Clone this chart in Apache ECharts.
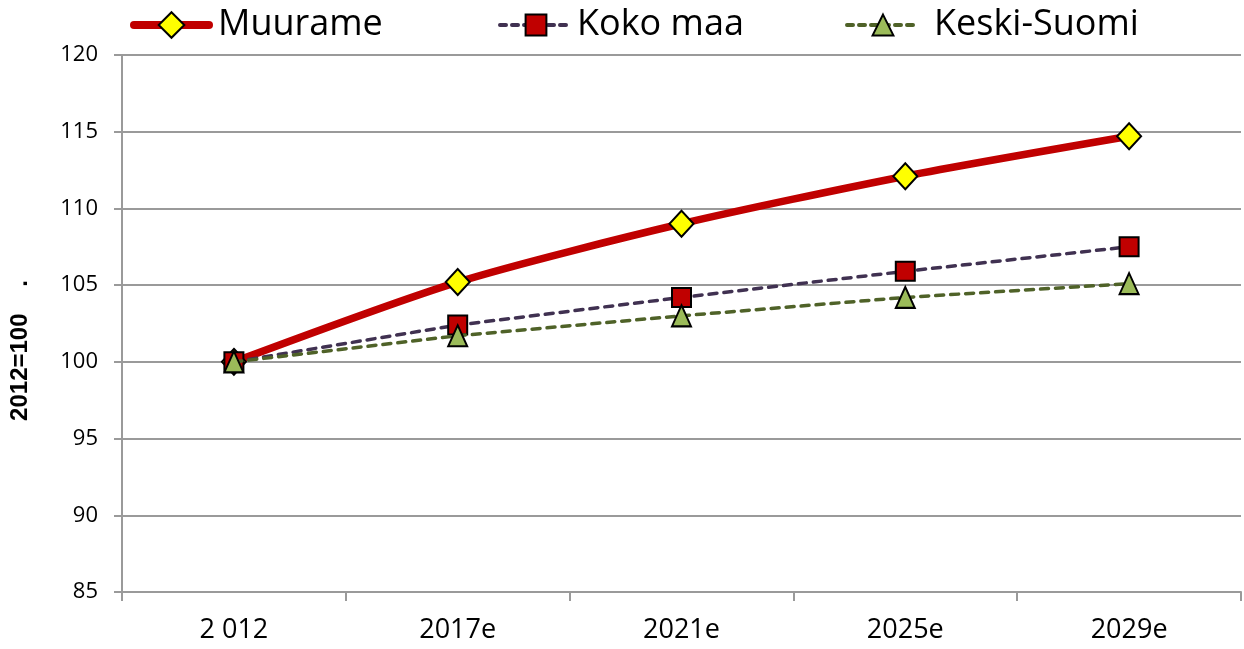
<!DOCTYPE html>
<html><head><meta charset="utf-8">
<script src="https://cdn.jsdelivr.net/npm/echarts@6/dist/echarts.min.js"></script>
<style>html,body{margin:0;padding:0;background:#fff}#c{width:1244px;height:649px}</style>
</head><body><div id="c"></div>
<script>
const categories = ['2 012', '2017e', '2021e', '2025e', '2029e'];
const muurame = [100, 105.2, 109.0, 112.1, 114.7];
const kokoMaa = [100, 102.4, 104.2, 105.9, 107.5];
const keskiSuomi = [100, 101.7, 103.0, 104.2, 105.1];
const yTicks = [85, 90, 95, 100, 105, 110, 115, 120];

const chart = echarts.init(document.getElementById('c'), null, {renderer: 'canvas'});
const lt = (pad) => ({fontFamily: 'Open Sans, sans-serif', fontSize: 36, color: '#000', padding: [0, 0, 0, pad]});
chart.setOption({
  animation: false,
  backgroundColor: '#fff',
  legend: [
    {data: ['Muurame'], left: 130, top: 7, padding: 0, itemWidth: 75, itemHeight: 32, textStyle: lt(4),
      lineStyle: {width: 8, cap: 'round'}},
    {data: ['Koko maa'], left: 498, top: 7, padding: 0, itemWidth: 72, itemHeight: 26, textStyle: lt(0),
      lineStyle: {width: 4, type: [6, 6], cap: 'round'}},
    {data: ['Keski-Suomi'], left: 845, top: 7, padding: 0, itemWidth: 72, itemHeight: 26, textStyle: lt(10),
      lineStyle: {width: 4, type: [6, 6], cap: 'round'}}
  ],
  grid: {left: 122, right: 3, top: 55, bottom: 57, containLabel: false},
  xAxis: {
    type: 'category', data: categories, boundaryGap: true,
    axisLine: {lineStyle: {color: '#9a9a9a', width: 2}},
    axisTick: {show: true, length: 9, lineStyle: {color: '#9a9a9a', width: 2}},
    axisLabel: {fontFamily: 'Open Sans, sans-serif', fontSize: 27, color: '#000', margin: 25},
    splitLine: {show: false}
  },
  yAxis: {
    type: 'value', min: 85, max: 120, interval: 5,
    name: '2012=100    .', nameLocation: 'middle', nameGap: 90, nameRotate: 90,
    nameTextStyle: {fontFamily: 'Liberation Sans, sans-serif', fontWeight: 'bold', fontSize: 24, color: '#000', padding: [0, 54, 0, 0]},
    axisLine: {show: true, lineStyle: {color: '#9a9a9a', width: 2}},
    axisTick: {show: true, length: 8, lineStyle: {color: '#9a9a9a', width: 2}},
    axisLabel: {fontFamily: 'Open Sans, sans-serif', fontSize: 22, color: '#000', margin: 24,
      formatter: v => yTicks.includes(v) ? String(v) : ''},
    splitLine: {show: true, lineStyle: {color: '#9a9a9a', width: 2}}
  },
  series: [
    {name: 'Muurame', type: 'line', data: muurame, smooth: 0.25,
      lineStyle: {color: '#C00000', width: 7.5}, itemStyle: {color: '#FFFF00', borderColor: '#000', borderWidth: 2},
      symbol: 'diamond', symbolSize: [24, 26], z: 2},
    {name: 'Koko maa', type: 'line', data: kokoMaa,
      lineStyle: {color: '#403151', width: 3.5, type: [8, 7], cap: 'round'}, itemStyle: {color: '#C00000', borderColor: '#000', borderWidth: 2},
      symbol: 'rect', symbolSize: [19, 19], z: 3},
    {name: 'Keski-Suomi', type: 'line', data: keskiSuomi,
      lineStyle: {color: '#4F6228', width: 3.5, type: [8, 7], cap: 'round'}, itemStyle: {color: '#9BBB59', borderColor: '#000', borderWidth: 2},
      symbol: 'triangle', symbolSize: [19, 21], z: 4}
  ]
});
</script></body></html>
